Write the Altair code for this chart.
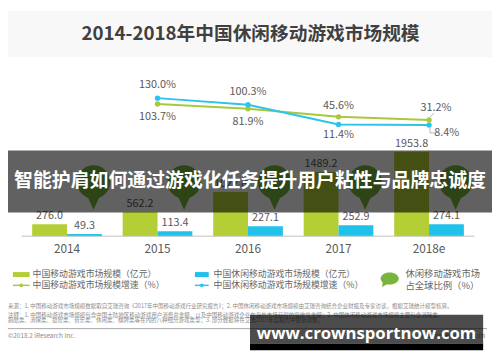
import altair as alt
import pandas as pd

# ---------------- data ----------------
years = ["2014", "2015", "2016", "2017", "2018e"]
mobile_market = [276.0, 562.2, 1022.8, 1489.2, 1953.8]   # 中国移动游戏市场规模（亿元）
casual_market = [49.3, 113.4, 227.1, 252.9, 274.1]       # 中国休闲移动游戏市场规模（亿元）
growth_years = ["2015", "2016", "2017", "2018e"]
mobile_growth = [103.7, 81.9, 45.6, 31.2]                # 中国移动游戏市场规模增速（%）
casual_growth = [130.0, 100.3, 11.4, 8.4]                # 中国休闲移动游戏市场规模增速（%）

title_text = "2014-2018年中国休闲移动游戏市场规模"
banner_text = "智能护肩如何通过游戏化任务提升用户粘性与品牌忠诚度"
watermark_text = "www.crownsportnow.com"
S_M = "中国移动游戏市场规模（亿元）"
S_C = "中国休闲移动游戏市场规模（亿元）"
G_M = "中国移动游戏市场规模增速（%）"
G_C = "中国休闲移动游戏市场规模增速（%）"
share_legend = ["休闲移动游戏市场", "占全球比例（%）"]
notes = [
    "来源：1. 中国移动游戏市场规模数据取自艾瑞咨询《2017年中国移动游戏行业研究报告》；2. 中国休闲移动游戏市场规模由艾瑞咨询结合企业财报及专家访谈，根据艾瑞统计模型核算。",
    "注释：1. 中国移动游戏市场规模包含中国大陆地区移动游戏用户消费总金额，以及中国移动游戏企业在海外市场获得的营收总金额；2. 中国休闲移动游戏市场规模主要包含消除类、",
    "跑酷类、消除类、益智类、音乐类、休闲类、棋牌类等在内的八种细分游戏类型；3. 部分数据将在艾瑞2017年度报告中更新调整。",
]
copyright_text = "©2018.2 iResearch Inc."
site_text = "www.iresearch.com.cn"

# ---------------- styles ----------------
FONT = "Noto Sans CJK SC"
GREEN_BAR = "#b4cf36"
BLUE_BAR = "#20c1ea"
GREEN_LINE = "#a8c93b"
BLUE_LINE = "#2dc3ec"
BUBBLE = "#78b53a"
TXT = "#595959"
LEG = "#666666"
W, H = 492, 354

bars_df = pd.DataFrame({
    "year": years + years,
    "series": [S_M] * len(years) + [S_C] * len(years),
    "value": mobile_market + casual_market,
})
bars_df["label"] = bars_df["value"].map(lambda v: f"{v:.1f}")

line_df = pd.DataFrame({
    "year": growth_years + growth_years,
    "series": [G_M] * len(growth_years) + [G_C] * len(growth_years),
    "value": mobile_growth + casual_growth,
})
line_df["label"] = line_df["value"].map(lambda v: f"{v:.1f}%")

years_df = pd.DataFrame({"year": years})
ONE = pd.DataFrame({"t": [""]})

x_enc = alt.X("year:N", axis=None,
              scale=alt.Scale(domain=years, range=[14, 474], paddingInner=0.23, paddingOuter=0.115))
xo_enc = alt.XOffset("series:N", scale=alt.Scale(domain=[S_M, S_C], paddingInner=0, paddingOuter=0))
bar_y = alt.Y("value:Q", axis=None,
              scale=alt.Scale(domain=[0, 2000], range=[229, 141.3], nice=False, zero=True))
line_y = alt.Y("value:Q", axis=None,
               scale=alt.Scale(domain=[0, 130], range=[118, 88.7], nice=False, zero=False))


def vtext(text, x, y, **kw):
    kw.setdefault("align", "left")
    kw.setdefault("baseline", "middle")
    return alt.Chart(pd.DataFrame({"t": [text]})).mark_text(**kw).encode(
        text="t:N", x=alt.value(x), y=alt.value(y))


def vrect(x, x2, y, y2, **kw):
    return alt.Chart(ONE).mark_rect(**kw).encode(
        x=alt.value(x), x2=alt.value(x2), y=alt.value(y), y2=alt.value(y2))


def vrule(x, x2, y, **kw):
    return alt.Chart(ONE).mark_rule(**kw).encode(
        x=alt.value(x), x2=alt.value(x2), y=alt.value(y))


def vpoint(x, y, **kw):
    return alt.Chart(ONE).mark_point(**kw).encode(x=alt.value(x), y=alt.value(y))


def pick(series, yrs):
    return alt.Chart(line_df).transform_filter(
        alt.FieldEqualPredicate(field="series", equal=series)).transform_filter(
        alt.FieldOneOfPredicate(field="year", oneOf=yrs))


# speech-bubble shapes (unit box, drawn by Vega at sqrt(size)/2 px per unit)
BUBBLE_PATH = ("M 0 1 C 0.552 1 1 0.552 1 0 C 1 -0.552 0.552 -1 0 -1 "
               "C -0.552 -1 -1 -0.552 -1 0 C -1 0.552 -0.552 1 0 1 Z "
               "M -0.35 0.9 L 0 1.65 L 0.35 0.9 Z")
LEGEND_BUBBLE_PATH = ("M 1 0 C 1 0.37 0.552 0.67 0 0.67 C -0.552 0.67 -1 0.37 -1 0 "
                      "C -1 -0.37 -0.552 -0.67 0 -0.67 C 0.552 -0.67 1 -0.37 1 0 Z "
                      "M -0.25 0.6 L -0.85 0.95 L -0.75 0.35 Z")

layers = []

# title area
layers.append(vrect(0, W, 0, 47, color="#f8f8f8"))
layers.append(vtext(title_text, 246.5, 24, font=FONT, fontSize=19, fontWeight="bold",
                    color="#404040", align="center"))

# bars + labels
layers.append(alt.Chart(bars_df).mark_bar().encode(
    x=x_enc, xOffset=xo_enc, y=bar_y,
    color=alt.Color("series:N", legend=None,
                    scale=alt.Scale(domain=[S_M, S_C], range=[GREEN_BAR, BLUE_BAR]))))
layers.append(alt.Chart(bars_df).mark_text(
    font=FONT, fontSize=11, color=TXT, baseline="bottom", dy=-3).encode(
    x=x_enc, xOffset=xo_enc, y=bar_y, text="label:N"))

# category axis
layers.append(vrule(14, 474, 229, color="#bfbfbf", strokeWidth=1))
layers.append(alt.Chart(years_df).mark_text(font=FONT, fontSize=12, color=TXT).encode(
    x=x_enc, y=alt.value(242), text="year:N"))

# growth lines
line_color = alt.Color("series:N", legend=None,
                       scale=alt.Scale(domain=[G_M, G_C], range=[GREEN_LINE, BLUE_LINE]))
layers.append(alt.Chart(line_df).mark_line(strokeWidth=2).encode(
    x=x_enc, y=line_y, color=line_color, detail="series:N"))
layers.append(alt.Chart(line_df).mark_point(filled=True, size=30, opacity=1).encode(
    x=x_enc, y=line_y, color=line_color))

# leader lines for the crowded 2018e labels
LEADER = "#a6a6a6"
layers.append(pick(G_C, ["2018e"]).mark_rule(
    color=LEADER, strokeWidth=0.8, xOffset=1, yOffset=3, x2Offset=1, y2Offset=8).encode(
    x=x_enc, x2="year:N", y=line_y, y2="value:Q"))
layers.append(pick(G_C, ["2018e"]).mark_rule(
    color=LEADER, strokeWidth=0.8, xOffset=1, yOffset=8, x2Offset=6, y2Offset=8).encode(
    x=x_enc, x2="year:N", y=line_y, y2="value:Q"))
layers.append(pick(G_M, ["2018e"]).mark_rule(
    color=LEADER, strokeWidth=0.8, xOffset=1, yOffset=-3, x2Offset=5, y2Offset=-7).encode(
    x=x_enc, x2="year:N", y=line_y, y2="value:Q"))

label_specs = [
    (G_C, ["2015", "2016"], 0, -13),
    (G_C, ["2017"], 0, 11),
    (G_C, ["2018e"], 18, 8),
    (G_M, ["2015", "2016"], 0, 13),
    (G_M, ["2017"], 0, -11),
    (G_M, ["2018e"], 7, -12),
]
for s, ys, dx, dy in label_specs:
    layers.append(pick(s, ys).mark_text(
        font=FONT, fontSize=11, color=TXT, dx=dx, dy=dy, baseline="middle").encode(
        x=x_enc, y=line_y, text="label:N"))

# share bubbles
layers.append(alt.Chart(years_df).mark_point(
    shape=BUBBLE_PATH, size=1156, filled=True, color=BUBBLE, opacity=1,
    strokeWidth=0, xOffset=27).encode(x=x_enc, y=alt.value(174)))

# overlay banner
layers.append(vrect(0, W, 142, 205, color="black", opacity=0.62))
layers.append(vtext(banner_text, 246, 173.5, font=FONT, fontSize=19.2, fontWeight="bold",
                    color="white", align="center"))

# legend
layers.append(vrect(5, 22, 265.5, 270.5, color=GREEN_BAR))
layers.append(vtext(S_M, 25, 268, font=FONT, fontSize=9, color=LEG))
layers.append(vrect(190, 204, 265.5, 270.5, color=BLUE_BAR))
layers.append(vtext(S_C, 209, 268, font=FONT, fontSize=9, color=LEG))
layers.append(vrule(5, 22, 279, color=GREEN_LINE, strokeWidth=1.5))
layers.append(vpoint(13.5, 279, filled=True, size=14, color=GREEN_LINE, opacity=1))
layers.append(vtext(G_M, 25, 279, font=FONT, fontSize=9, color=LEG))
layers.append(vrule(190, 204, 279, color=BLUE_LINE, strokeWidth=1.5))
layers.append(vpoint(197, 279, filled=True, size=14, color=BLUE_LINE, opacity=1))
layers.append(vtext(G_C, 209, 279, font=FONT, fontSize=9, color=LEG))
layers.append(vpoint(388, 272, shape=LEGEND_BUBBLE_PATH, size=340, filled=True,
                     color=BUBBLE, opacity=1, strokeWidth=0))
layers.append(vtext(share_legend[0], 404, 268, font=FONT, fontSize=9.5, color=LEG))
layers.append(vtext(share_legend[1], 404, 279.5, font=FONT, fontSize=9.5, color=LEG))

# footnotes
for note, yy in zip(notes, [300.3, 308.7, 314.7]):
    layers.append(vtext(note, 0, yy, font=FONT, fontSize=5.6, color="#8c8c8c"))
layers.append(vrule(0, 487, 323, color="#a6a6a6", strokeWidth=1))
layers.append(vtext(copyright_text, 0, 331, font=FONT, fontSize=6.5, color="#8c8c8c"))
layers.append(vtext(site_text, 485, 331, font=FONT, fontSize=6.5, color="#8c8c8c",
                    align="right"))

# watermark
layers.append(vrect(246, 483, 309, 338, color="black", opacity=0.7))
layers.append(vrect(246, 483, 338, 345, color="black", opacity=1))
layers.append(vtext(watermark_text, 364.5, 333.5, font="Open Sans", fontSize=17,
                    fontWeight="bold", color="white", align="center", baseline="alphabetic"))

chart = alt.layer(*layers).resolve_scale(
    y="independent", color="independent"
).properties(
    width=W, height=H, padding=0, autosize=alt.AutoSizeParams(type="none"),
    background="white"
).configure_view(stroke=None)

chart.save("out.html", embed_options={"renderer": "svg", "actions": False})
